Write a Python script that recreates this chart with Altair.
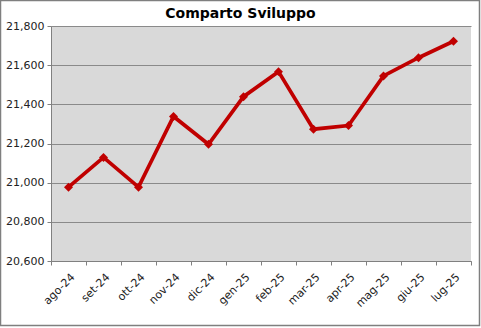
import altair as alt
import pandas as pd

months = ["ago-24", "set-24", "ott-24", "nov-24", "dic-24", "gen-25",
          "feb-25", "mar-25", "apr-25", "mag-25", "giu-25", "lug-25"]
values = [20977, 21129, 20977, 21338, 21196, 21439,
          21567, 21273, 21292, 21545, 21638, 21722]
title_text = "Comparto Sviluppo"

df = pd.DataFrame({"mese": months, "valore": values})

W, H = 420, 235
PL, PT = 51, 26

x_enc = alt.X("mese:N", sort=months, bandPosition=0.5,
              scale=alt.Scale(type="band", paddingInner=0, paddingOuter=0),
              axis=alt.Axis(title=None, labelAngle=-45, tickBand="extent",
                            grid=False, domainColor="#808080", tickColor="#808080",
                            tickSize=4, labelFont="DejaVu Sans", labelFontSize=11,
                            labelColor="#222222", labelPadding=6))
y_enc = alt.Y("valore:Q",
              scale=alt.Scale(domain=[20600, 21800], nice=False, zero=False),
              axis=alt.Axis(title=None, values=[20600, 20800, 21000, 21200, 21400, 21600, 21800],
                            format=",.0f", formatType="number", grid=True,
                            gridColor="#8a8a8a", gridWidth=1,
                            domainColor="#808080", tickColor="#808080", tickSize=4,
                            labelFont="DejaVu Sans", labelFontSize=11,
                            labelColor="#222222", labelPadding=3))

base = alt.Chart(df)

line = base.mark_line(color="#c00000", strokeWidth=3.7).encode(x=x_enc, y=y_enc)
pts = base.mark_point(shape="diamond", filled=True, color="#c00000", size=80, opacity=1).encode(x=x_enc, y=y_enc)

one = pd.DataFrame({"t": [title_text]})
frame = alt.Chart(one).mark_rect(
    filled=False, stroke="#7f7f7f", strokeWidth=1.5, clip=False
).encode(x=alt.value(-PL + 0.5), x2=alt.value(480 - PL - 0.5),
         y=alt.value(-PT + 0.5), y2=alt.value(326 - PT - 0.5))

title = alt.Chart(one).mark_text(
    font="DejaVu Sans", fontSize=14, fontWeight="bold", color="#000000",
    align="center", baseline="alphabetic", clip=False
).encode(text="t:N", x=alt.value(240.5 - PL), y=alt.value(18 - PT))

chart = alt.layer(frame, line, pts, title).properties(
    width=W, height=H,
    padding={"left": PL, "top": PT, "right": 481 - PL - W, "bottom": 328 - PT - H},
    autosize=alt.AutoSizeParams(type="none"),
).configure(background="white").configure_view(fill="#d9d9d9", stroke=None)

chart.save("out.html", embed_options={"renderer": "svg", "actions": False})
